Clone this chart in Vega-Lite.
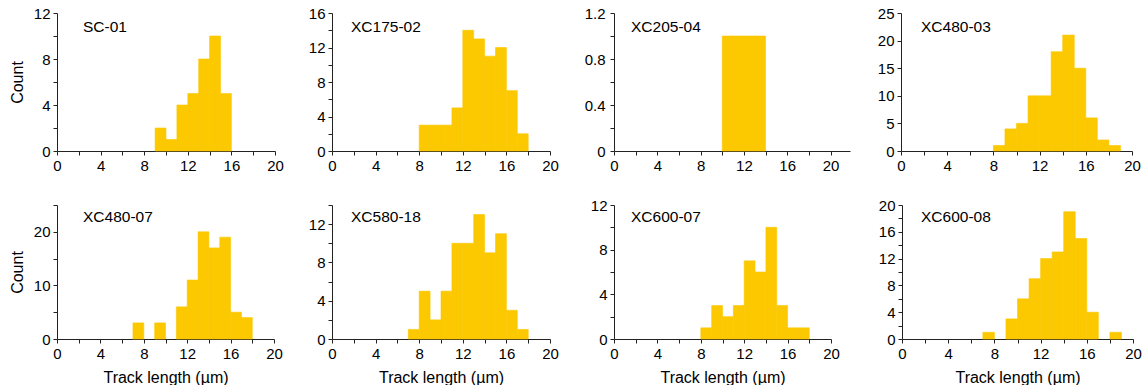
{
  "$schema": "https://vega.github.io/schema/vega-lite/v6.json",
  "background": "white",
  "padding": {"left": 9, "top": 6, "right": 0, "bottom": 0},
  "data": {"values": [
    {"s": "SC-01", "x0": 9, "x1": 10, "n": 2},
    {"s": "SC-01", "x0": 10, "x1": 11, "n": 1},
    {"s": "SC-01", "x0": 11, "x1": 12, "n": 4},
    {"s": "SC-01", "x0": 12, "x1": 13, "n": 5},
    {"s": "SC-01", "x0": 13, "x1": 14, "n": 8},
    {"s": "SC-01", "x0": 14, "x1": 15, "n": 10},
    {"s": "SC-01", "x0": 15, "x1": 16, "n": 5},
    {"s": "XC175-02", "x0": 8, "x1": 9, "n": 3},
    {"s": "XC175-02", "x0": 9, "x1": 10, "n": 3},
    {"s": "XC175-02", "x0": 10, "x1": 11, "n": 3},
    {"s": "XC175-02", "x0": 11, "x1": 12, "n": 5},
    {"s": "XC175-02", "x0": 12, "x1": 13, "n": 14},
    {"s": "XC175-02", "x0": 13, "x1": 14, "n": 13},
    {"s": "XC175-02", "x0": 14, "x1": 15, "n": 11},
    {"s": "XC175-02", "x0": 15, "x1": 16, "n": 12},
    {"s": "XC175-02", "x0": 16, "x1": 17, "n": 7},
    {"s": "XC175-02", "x0": 17, "x1": 18, "n": 2},
    {"s": "XC205-04", "x0": 10, "x1": 14, "n": 1},
    {"s": "XC480-03", "x0": 8, "x1": 9, "n": 1},
    {"s": "XC480-03", "x0": 9, "x1": 10, "n": 4},
    {"s": "XC480-03", "x0": 10, "x1": 11, "n": 5},
    {"s": "XC480-03", "x0": 11, "x1": 12, "n": 10},
    {"s": "XC480-03", "x0": 12, "x1": 13, "n": 10},
    {"s": "XC480-03", "x0": 13, "x1": 14, "n": 18},
    {"s": "XC480-03", "x0": 14, "x1": 15, "n": 21},
    {"s": "XC480-03", "x0": 15, "x1": 16, "n": 15},
    {"s": "XC480-03", "x0": 16, "x1": 17, "n": 6},
    {"s": "XC480-03", "x0": 17, "x1": 18, "n": 2},
    {"s": "XC480-03", "x0": 18, "x1": 19, "n": 1},
    {"s": "XC480-07", "x0": 7, "x1": 8, "n": 3},
    {"s": "XC480-07", "x0": 9, "x1": 10, "n": 3},
    {"s": "XC480-07", "x0": 11, "x1": 12, "n": 6},
    {"s": "XC480-07", "x0": 12, "x1": 13, "n": 11},
    {"s": "XC480-07", "x0": 13, "x1": 14, "n": 20},
    {"s": "XC480-07", "x0": 14, "x1": 15, "n": 17},
    {"s": "XC480-07", "x0": 15, "x1": 16, "n": 19},
    {"s": "XC480-07", "x0": 16, "x1": 17, "n": 5},
    {"s": "XC480-07", "x0": 17, "x1": 18, "n": 4},
    {"s": "XC580-18", "x0": 7, "x1": 8, "n": 1},
    {"s": "XC580-18", "x0": 8, "x1": 9, "n": 5},
    {"s": "XC580-18", "x0": 9, "x1": 10, "n": 2},
    {"s": "XC580-18", "x0": 10, "x1": 11, "n": 5},
    {"s": "XC580-18", "x0": 11, "x1": 12, "n": 10},
    {"s": "XC580-18", "x0": 12, "x1": 13, "n": 10},
    {"s": "XC580-18", "x0": 13, "x1": 14, "n": 13},
    {"s": "XC580-18", "x0": 14, "x1": 15, "n": 9},
    {"s": "XC580-18", "x0": 15, "x1": 16, "n": 11},
    {"s": "XC580-18", "x0": 16, "x1": 17, "n": 3},
    {"s": "XC580-18", "x0": 17, "x1": 18, "n": 1},
    {"s": "XC600-07", "x0": 8, "x1": 9, "n": 1},
    {"s": "XC600-07", "x0": 9, "x1": 10, "n": 3},
    {"s": "XC600-07", "x0": 10, "x1": 11, "n": 2},
    {"s": "XC600-07", "x0": 11, "x1": 12, "n": 3},
    {"s": "XC600-07", "x0": 12, "x1": 13, "n": 7},
    {"s": "XC600-07", "x0": 13, "x1": 14, "n": 6},
    {"s": "XC600-07", "x0": 14, "x1": 15, "n": 10},
    {"s": "XC600-07", "x0": 15, "x1": 16, "n": 3},
    {"s": "XC600-07", "x0": 16, "x1": 17, "n": 1},
    {"s": "XC600-07", "x0": 17, "x1": 18, "n": 1},
    {"s": "XC600-08", "x0": 7, "x1": 8, "n": 1},
    {"s": "XC600-08", "x0": 9, "x1": 10, "n": 3},
    {"s": "XC600-08", "x0": 10, "x1": 11, "n": 6},
    {"s": "XC600-08", "x0": 11, "x1": 12, "n": 9},
    {"s": "XC600-08", "x0": 12, "x1": 13, "n": 12},
    {"s": "XC600-08", "x0": 13, "x1": 14, "n": 13},
    {"s": "XC600-08", "x0": 14, "x1": 15, "n": 19},
    {"s": "XC600-08", "x0": 15, "x1": 16, "n": 15},
    {"s": "XC600-08", "x0": 16, "x1": 17, "n": 4},
    {"s": "XC600-08", "x0": 18, "x1": 19, "n": 1}
  ]},
  "spacing": 25,
  "vconcat": [
    {
      "spacing": 10,
      "hconcat": [
        {
          "width": 218, "height": 138,
          "title": {"text": "SC-01", "dx": 26, "offset": -29.5},
          "transform": [{"filter": "datum.s === 'SC-01'"}],
          "mark": {"type": "bar", "color": "#fcc800", "stroke": "#fcc800", "strokeWidth": 0.6},
          "encoding": {
            "x": {"field": "x0", "type": "quantitative", "scale": {"domain": [0, 20], "nice": false}, "axis": {"title": null, "values": [0,2,4,6,8,10,12,14,16,18,20], "labelExpr": "datum.value % 4 == 0 ? datum.label : ''"}},
            "x2": {"field": "x1"},
            "y": {"field": "n", "type": "quantitative", "scale": {"domain": [0, 12], "nice": false}, "axis": {"title": "Count", "values": [0,2,4,6,8,10,12], "labelExpr": "datum.value % 4 == 0 ? datum.label : ''"}},
            "y2": {"datum": 0}
          }
        },
        {
          "width": 218, "height": 138,
          "title": {"text": "XC175-02", "dx": 19, "offset": -29.5},
          "transform": [{"filter": "datum.s === 'XC175-02'"}],
          "mark": {"type": "bar", "color": "#fcc800", "stroke": "#fcc800", "strokeWidth": 0.6},
          "encoding": {
            "x": {"field": "x0", "type": "quantitative", "scale": {"domain": [0, 20], "nice": false}, "axis": {"title": null, "values": [0,2,4,6,8,10,12,14,16,18,20], "labelExpr": "datum.value % 4 == 0 ? datum.label : ''"}},
            "x2": {"field": "x1"},
            "y": {"field": "n", "type": "quantitative", "scale": {"domain": [0, 16], "nice": false}, "axis": {"title": null, "minExtent": 37.7, "values": [0,2,4,6,8,10,12,14,16], "labelExpr": "datum.value % 4 == 0 ? datum.label : ''"}},
            "y2": {"datum": 0}
          }
        },
        {
          "width": 236, "height": 138,
          "title": {"text": "XC205-04", "dx": 17, "offset": -29.5},
          "transform": [{"filter": "datum.s === 'XC205-04'"}],
          "mark": {"type": "bar", "color": "#fcc800", "stroke": "#fcc800", "strokeWidth": 0.6},
          "encoding": {
            "x": {"field": "x0", "type": "quantitative", "scale": {"domain": [0, 21.8], "nice": false}, "axis": {"title": null, "values": [0,2,4,6,8,10,12,14,16,18,20], "labelExpr": "datum.value % 4 == 0 ? datum.label : ''"}},
            "x2": {"field": "x1"},
            "y": {"field": "n", "type": "quantitative", "scale": {"domain": [0, 1.2], "nice": false}, "axis": {"title": null, "minExtent": 44.7, "labelPadding": 5, "values": [0,0.2,0.4,0.6,0.8,1,1.2], "labelExpr": "round(datum.value*10) % 4 == 0 ? format(datum.value, '~g') : ''"}},
            "y2": {"datum": 0}
          }
        },
        {
          "width": 231, "height": 138,
          "title": {"text": "XC480-03", "dx": 20, "offset": -29.5},
          "transform": [{"filter": "datum.s === 'XC480-03'"}],
          "mark": {"type": "bar", "color": "#fcc800", "stroke": "#fcc800", "strokeWidth": 0.6},
          "encoding": {
            "x": {"field": "x0", "type": "quantitative", "scale": {"domain": [0, 20], "nice": false}, "axis": {"title": null, "values": [0,2,4,6,8,10,12,14,16,18,20], "labelExpr": "datum.value % 4 == 0 ? datum.label : ''"}},
            "x2": {"field": "x1"},
            "y": {"field": "n", "type": "quantitative", "scale": {"domain": [0, 25], "nice": false}, "axis": {"title": null, "minExtent": 40.5, "values": [0,5,10,15,20,25]}},
            "y2": {"datum": 0}
          }
        }
      ]
    },
    {
      "spacing": 10,
      "hconcat": [
        {
          "width": 217, "height": 134,
          "title": {"text": "XC480-07", "dx": 26, "offset": -27},
          "transform": [{"filter": "datum.s === 'XC480-07'"}],
          "mark": {"type": "bar", "color": "#fcc800", "stroke": "#fcc800", "strokeWidth": 0.6},
          "encoding": {
            "x": {"field": "x0", "type": "quantitative", "scale": {"domain": [0, 20], "nice": false}, "axis": {"title": "Track length (µm)", "values": [0,2,4,6,8,10,12,14,16,18,20], "labelExpr": "datum.value % 4 == 0 ? datum.label : ''"}},
            "x2": {"field": "x1"},
            "y": {"field": "n", "type": "quantitative", "scale": {"domain": [0, 25], "nice": false}, "axis": {"title": "Count", "values": [0,5,10,15,20,25], "labelExpr": "datum.value % 10 == 0 ? datum.label : ''"}},
            "y2": {"datum": 0}
          }
        },
        {
          "width": 218, "height": 134,
          "title": {"text": "XC580-18", "dx": 19, "offset": -27},
          "transform": [{"filter": "datum.s === 'XC580-18'"}],
          "mark": {"type": "bar", "color": "#fcc800", "stroke": "#fcc800", "strokeWidth": 0.6},
          "encoding": {
            "x": {"field": "x0", "type": "quantitative", "scale": {"domain": [0, 20], "nice": false}, "axis": {"title": "Track length (µm)", "values": [0,2,4,6,8,10,12,14,16,18,20], "labelExpr": "datum.value % 4 == 0 ? datum.label : ''"}},
            "x2": {"field": "x1"},
            "y": {"field": "n", "type": "quantitative", "scale": {"domain": [0, 14], "nice": false}, "axis": {"title": null, "minExtent": 38.7, "values": [0,2,4,6,8,10,12,14], "labelExpr": "datum.value % 4 == 0 ? datum.label : ''"}},
            "y2": {"datum": 0}
          }
        },
        {
          "width": 217, "height": 134,
          "title": {"text": "XC600-07", "dx": 17, "offset": -27},
          "transform": [{"filter": "datum.s === 'XC600-07'"}],
          "mark": {"type": "bar", "color": "#fcc800", "stroke": "#fcc800", "strokeWidth": 0.6},
          "encoding": {
            "x": {"field": "x0", "type": "quantitative", "scale": {"domain": [0, 20], "nice": false}, "axis": {"title": "Track length (µm)", "values": [0,2,4,6,8,10,12,14,16,18,20], "labelExpr": "datum.value % 4 == 0 ? datum.label : ''"}},
            "x2": {"field": "x1"},
            "y": {"field": "n", "type": "quantitative", "scale": {"domain": [0, 12], "nice": false}, "axis": {"title": null, "minExtent": 44.7, "values": [0,2,4,6,8,10,12], "labelExpr": "datum.value % 4 == 0 ? datum.label : ''"}},
            "y2": {"datum": 0}
          }
        },
        {
          "width": 231, "height": 134,
          "title": {"text": "XC600-08", "dx": 19, "offset": -27},
          "transform": [{"filter": "datum.s === 'XC600-08'"}],
          "mark": {"type": "bar", "color": "#fcc800", "stroke": "#fcc800", "strokeWidth": 0.6},
          "encoding": {
            "x": {"field": "x0", "type": "quantitative", "scale": {"domain": [0, 20], "nice": false}, "axis": {"title": "Track length (µm)", "values": [0,2,4,6,8,10,12,14,16,18,20], "labelExpr": "datum.value % 4 == 0 ? datum.label : ''"}},
            "x2": {"field": "x1"},
            "y": {"field": "n", "type": "quantitative", "scale": {"domain": [0, 20], "nice": false}, "axis": {"title": null, "minExtent": 51.2, "values": [0,2,4,6,8,10,12,14,16,18,20], "labelExpr": "datum.value % 4 == 0 ? datum.label : ''"}},
            "y2": {"datum": 0}
          }
        }
      ]
    }
  ],
  "config": {
    "view": {"stroke": null},
    "font": "Liberation Sans",
    "title": {"anchor": "start", "frame": "group", "orient": "top", "baseline": "alphabetic", "fontSize": 15.5, "fontWeight": "normal", "font": "Liberation Sans", "color": "#000"},
    "axis": {
      "grid": false,
      "domainColor": "#222",
      "tickColor": "#222",
      "tickSize": 4,
      "labelFont": "Liberation Sans",
      "labelFontSize": 15,
      "labelColor": "#000",
      "labelPadding": 3,
      "labelFlush": false,
      "labelOverlap": false,
      "titleFont": "Liberation Sans",
      "titleFontSize": 16,
      "titleFontWeight": "normal",
      "titleColor": "#000"
    },
    "axisX": {"titlePadding": 8},
    "axisY": {"titlePadding": 8}
  }
}
